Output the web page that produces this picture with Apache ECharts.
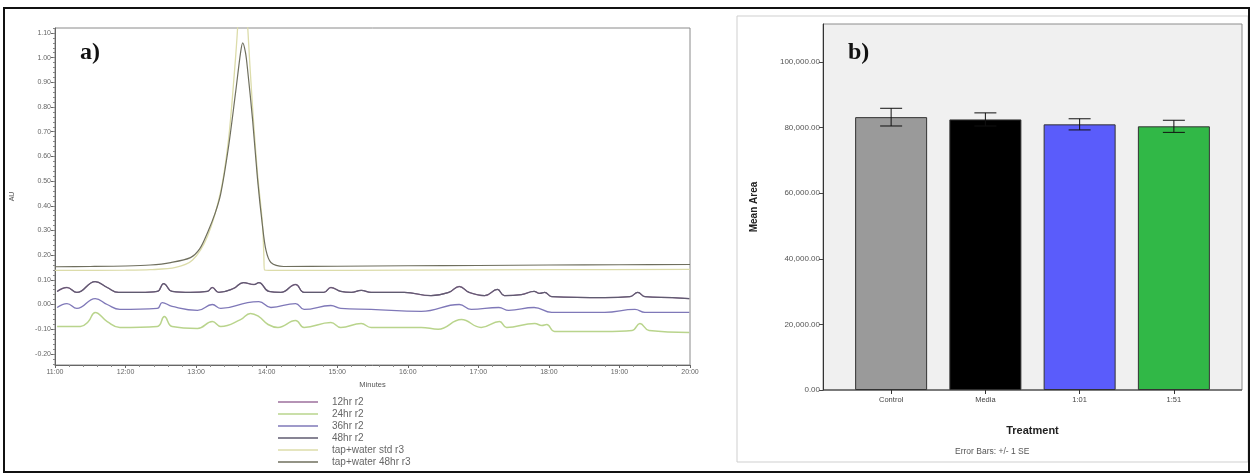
<!DOCTYPE html>
<html>
<head>
<meta charset="utf-8">
<script src="https://cdn.jsdelivr.net/npm/echarts@6/dist/echarts.min.js"></script>
<style>
  html, body { margin: 0; padding: 0; background: #ffffff; }
  #chart { width: 1251px; height: 475px; }
</style>
</head>
<body>
<div id="chart"></div>
<script>
// ---- a) chromatogram traces: [minutes, AU] ----
const traceTop = [
  [11.03, 0.053], [11.17, 0.069], [11.31, 0.049], [11.57, 0.093], [11.74, 0.069], [11.90, 0.049],
  [12.21, 0.049], [12.45, 0.053], [12.54, 0.085], [12.66, 0.053], [12.92, 0.049], [13.16, 0.053],
  [13.23, 0.069], [13.32, 0.049], [13.53, 0.065], [13.67, 0.089], [13.82, 0.081], [13.89, 0.089],
  [14.03, 0.053], [14.20, 0.049], [14.41, 0.081], [14.53, 0.049], [14.81, 0.049], [14.91, 0.069],
  [15.05, 0.053], [15.20, 0.049], [15.34, 0.057], [15.48, 0.049], [15.95, 0.049], [16.33, 0.036],
  [16.58, 0.049], [16.73, 0.073], [16.87, 0.049], [17.09, 0.036], [17.27, 0.061], [17.37, 0.036],
  [17.61, 0.040], [17.79, 0.053], [17.87, 0.045], [17.94, 0.049], [18.04, 0.032], [18.79, 0.028],
  [19.15, 0.032], [19.26, 0.049], [19.36, 0.032], [19.75, 0.028], [19.99, 0.024]
];
const trace36hr = [
  [11.03, -0.012], [11.17, 0.004], [11.31, -0.016], [11.57, 0.024], [11.74, 0.000], [11.92, -0.020],
  [12.45, -0.016], [12.52, 0.008], [12.66, -0.008], [13.02, -0.024], [13.23, 0.000], [13.35, -0.016],
  [13.73, 0.008], [13.89, 0.012], [14.06, -0.012], [14.41, 0.004], [14.53, -0.020], [14.91, -0.004],
  [15.05, -0.016], [15.48, -0.020], [16.19, -0.028], [16.73, 0.000], [16.90, -0.020], [17.29, -0.012],
  [17.43, -0.024], [17.79, -0.012], [18.04, -0.032], [18.79, -0.032], [19.22, -0.020], [19.36, -0.032],
  [19.99, -0.032]
];
const trace24hr = [
  [11.03, -0.089], [11.36, -0.089], [11.47, -0.070], [11.57, -0.032], [11.74, -0.069], [11.92, -0.093],
  [12.45, -0.089], [12.55, -0.049], [12.66, -0.089], [13.02, -0.097], [13.23, -0.069], [13.35, -0.089],
  [13.63, -0.061], [13.77, -0.036], [13.89, -0.049], [14.02, -0.081], [14.16, -0.093], [14.41, -0.065],
  [14.53, -0.093], [14.91, -0.073], [15.05, -0.093], [15.34, -0.077], [15.48, -0.093], [16.19, -0.093],
  [16.43, -0.100], [16.76, -0.061], [17.04, -0.093], [17.30, -0.069], [17.40, -0.093], [17.80, -0.077],
  [17.90, -0.085], [17.97, -0.081], [18.08, -0.109], [18.79, -0.109], [19.18, -0.105], [19.29, -0.077],
  [19.42, -0.105], [19.99, -0.113]
];
const traceTapStd = [
  [11.00, 0.138], [12.00, 0.139], [12.35, 0.141], [12.71, 0.150], [12.95, 0.180], [13.16, 0.275],
  [13.35, 0.460], [13.46, 0.670], [13.54, 0.930], [13.59, 1.130], [13.63, 1.400], [13.66, 1.500],
  [13.69, 1.400], [13.73, 1.130], [13.80, 0.800], [13.87, 0.530], [13.94, 0.330], [13.96, 0.200],
  [13.97, 0.140], [14.20, 0.138], [16.00, 0.139], [18.00, 0.141], [20.00, 0.142]
];
const traceTap48 = [
  [11.00, 0.153], [11.50, 0.154], [12.00, 0.156], [12.35, 0.160], [12.64, 0.170], [12.92, 0.190],
  [13.05, 0.225], [13.16, 0.290], [13.27, 0.370], [13.35, 0.450], [13.46, 0.640], [13.56, 0.860],
  [13.63, 1.020], [13.66, 1.060], [13.70, 1.020], [13.73, 0.950], [13.80, 0.750], [13.87, 0.510],
  [13.94, 0.320], [13.99, 0.220], [14.06, 0.170], [14.24, 0.154], [15.00, 0.155], [16.00, 0.157],
  [17.00, 0.158], [18.00, 0.160], [19.00, 0.161], [20.00, 0.162]
];
const auTicks = [-0.2, -0.1, 0.0, 0.1, 0.2, 0.3, 0.4, 0.5, 0.6, 0.7, 0.8, 0.9, 1.0, 1.1];
const auMinorTicks = [];
for (let k = -12; k <= 56; k++) auMinorTicks.push(+(k * 0.02).toFixed(2));

// ---- b) mean peak area by treatment ----
const treatments = ['Control', 'Media', '1:01', '1:51'];
const meanArea = [83200, 82500, 81000, 80400];
const seArea = [2700, 2000, 1700, 1850];
const areaTicks = [0, 20000, 40000, 60000, 80000, 100000];
const barColors = ['#9a9a9a', '#000000', '#5a5cfb', '#31b847'];

const errorData = treatments.map((t, i) => [i, meanArea[i] - seArea[i], meanArea[i] + seArea[i]]);

const lineSeries = (name, data, color, width, smooth) => ({
  name, type: 'line', data, xAxisIndex: 0, yAxisIndex: 0,
  symbol: 'none', smooth: smooth, clip: true,
  lineStyle: { color, width }, itemStyle: { color }
});

const fmtArea = v => {
  const s = Math.round(v).toString().replace(/\B(?=(\d{3})+(?!\d))/g, ',');
  return s + '.00';
};

const chart = echarts.init(document.getElementById('chart'), null, { renderer: 'canvas' });
chart.setOption({
  animation: false,
  backgroundColor: '#ffffff',
  textStyle: { fontFamily: 'Liberation Sans, Arial, sans-serif' },
  grid: [
    { left: 55, top: 28, width: 635, height: 337, show: true, borderColor: '#8a8a8a', borderWidth: 1, backgroundColor: 'transparent' },
    { left: 844, top: 24, width: 377, height: 366 }
  ],
  xAxis: [
    {
      type: 'value', gridIndex: 0, min: 11, max: 20, interval: 1,
      name: 'Minutes', nameLocation: 'middle', nameGap: 15,
      nameTextStyle: { fontSize: 7.5, color: '#555' },
      axisLine: { onZero: false, lineStyle: { color: '#666' } },
      axisTick: { show: true, length: 3, lineStyle: { color: '#666' } },
      minorTick: { show: true, splitNumber: 5, length: 2, lineStyle: { color: '#888' } },
      axisLabel: { fontSize: 7, color: '#666', margin: 4, formatter: v => v + ':00' },
      splitLine: { show: false }
    },
    {
      type: 'category', gridIndex: 1, data: treatments,
      name: 'Treatment', nameLocation: 'middle', nameGap: 35,
      nameTextStyle: { fontSize: 11, fontWeight: 'bold', color: '#222' },
      axisLine: { show: false, onZero: false },
      axisTick: { show: true, alignWithLabel: true, length: 4, lineStyle: { color: '#333' } },
      axisLabel: { fontSize: 7.5, color: '#444', margin: 6 }
    }
  ],
  yAxis: [
    {
      type: 'value', gridIndex: 0, min: -0.245, max: 1.12,
      name: 'AU', nameLocation: 'middle', nameGap: 39, nameRotate: 90,
      nameTextStyle: { fontSize: 7, color: '#555' },
      axisLine: { show: true, onZero: false, lineStyle: { color: '#666' } },
      axisTick: { show: true, length: 4, customValues: auTicks, lineStyle: { color: '#666' } },
      axisLabel: { fontSize: 7, color: '#666', margin: 4, customValues: auTicks, formatter: v => v.toFixed(2) },
      splitLine: { show: false }
    },
    {
      type: 'value', gridIndex: 0, min: -0.245, max: 1.12, position: 'left',
      axisLine: { show: false, onZero: false },
      axisTick: { show: true, length: 2, customValues: auMinorTicks, lineStyle: { color: '#888' } },
      axisLabel: { show: false },
      splitLine: { show: false }
    },
    {
      type: 'value', gridIndex: 1, min: 0, max: 111600, offset: 21,
      name: 'Mean Area', nameLocation: 'middle', nameGap: 64, nameRotate: 90,
      nameTextStyle: { fontSize: 10, fontWeight: 'bold', color: '#222' },
      axisLine: { show: true, onZero: false, lineStyle: { color: '#333' } },
      axisTick: { show: true, length: 4, customValues: areaTicks, lineStyle: { color: '#444' } },
      axisLabel: { fontSize: 8, color: '#555', margin: 3, customValues: areaTicks, formatter: fmtArea },
      splitLine: { show: false }
    }
  ],
  legend: {
    orient: 'vertical', left: 273, top: 391,
    icon: 'rect', itemWidth: 40, itemHeight: 1.5, itemGap: 0,
    textStyle: { fontSize: 10, color: '#666', lineHeight: 12, padding: [0, 0, 0, 9] },
    data: ['12hr r2', '24hr r2', '36hr r2', '48hr r2', 'tap+water std r3', 'tap+water 48hr r3']
  },
  graphic: [
    { type: 'rect', z: -10, shape: { x: 737, y: 16, width: 511, height: 446 }, style: { fill: '#ffffff', stroke: '#cfcfcf', lineWidth: 1 } },
    { type: 'rect', z: -9, shape: { x: 823, y: 24, width: 419, height: 366 }, style: { fill: '#f0f0f0', stroke: '#8c8c8c', lineWidth: 1 } },
    { type: 'line', z: 5, shape: { x1: 823, y1: 390, x2: 1242, y2: 390 }, style: { stroke: '#333', lineWidth: 1 } },
    { type: 'rect', z: 20, shape: { x: 4, y: 8, width: 1245, height: 464 }, style: { fill: 'none', stroke: '#111', lineWidth: 2 } },
    { type: 'text', z: 20, left: 80, top: 41, style: { text: 'a)', font: 'bold 24px "Liberation Serif", "DejaVu Serif", serif', fill: '#111' } },
    { type: 'text', z: 20, left: 848, top: 41, style: { text: 'b)', font: 'bold 24px "Liberation Serif", "DejaVu Serif", serif', fill: '#111' } },
    { type: 'text', z: 20, left: 955, top: 447, style: { text: 'Error Bars: +/- 1 SE', font: '8.5px "Liberation Sans", Arial, sans-serif', fill: '#555' } }
  ],
  series: [
    lineSeries('12hr r2', traceTop, '#9c6f9c', 1.3, 0.45),
    lineSeries('24hr r2', trace24hr, '#b9d48c', 1.5, 0.45),
    lineSeries('36hr r2', trace36hr, '#7f78b8', 1.3, 0.45),
    lineSeries('48hr r2', traceTop, '#5f5b70', 1.2, 0.45),
    lineSeries('tap+water std r3', traceTapStd, '#dcdcaa', 1.3, 0.3),
    lineSeries('tap+water 48hr r3', traceTap48, '#6f6f5e', 1.2, 0.3),
    {
      name: 'Mean Area', type: 'bar', xAxisIndex: 1, yAxisIndex: 2,
      barWidth: 72,
      data: meanArea.map((v, i) => ({
        value: v,
        itemStyle: { color: barColors[i], borderColor: '#333', borderWidth: 1 }
      }))
    },
    {
      name: 'SE', type: 'custom', xAxisIndex: 1, yAxisIndex: 2, z: 5,
      data: errorData,
      encode: { x: 0, y: [1, 2] },
      renderItem: (params, api) => {
        const i = api.value(0);
        const lo = api.coord([i, api.value(1)]);
        const hi = api.coord([i, api.value(2)]);
        const cap = 11;
        const st = { stroke: '#111', lineWidth: 1 };
        return {
          type: 'group',
          children: [
            { type: 'line', shape: { x1: hi[0], y1: hi[1], x2: lo[0], y2: lo[1] }, style: st },
            { type: 'line', shape: { x1: hi[0] - cap, y1: hi[1], x2: hi[0] + cap, y2: hi[1] }, style: st },
            { type: 'line', shape: { x1: lo[0] - cap, y1: lo[1], x2: lo[0] + cap, y2: lo[1] }, style: st }
          ]
        };
      }
    }
  ]
});
</script>
</body>
</html>
